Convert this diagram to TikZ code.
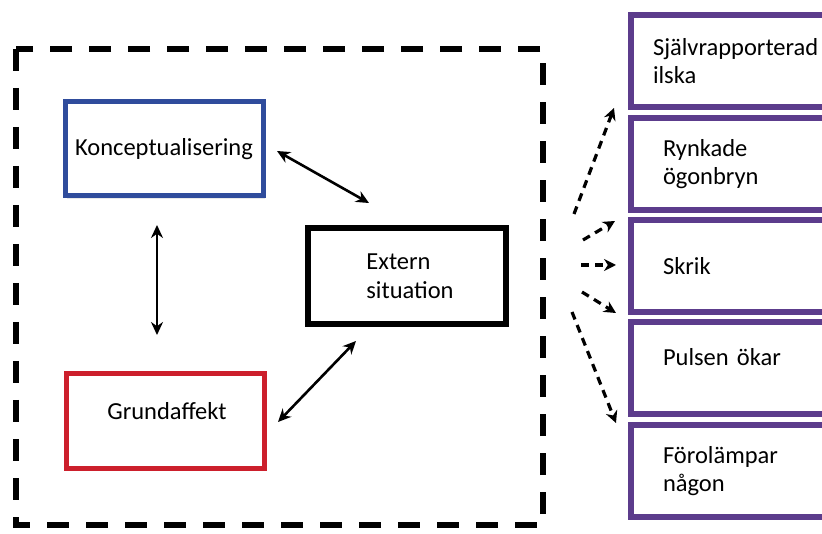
\documentclass[tikz,border=0pt]{standalone}
\usepackage{fontspec}
\setmainfont{Carlito}
\usetikzlibrary{arrows.meta,shadows}
\definecolor{kblue}{HTML}{2F4C9C}
\definecolor{kred}{HTML}{CC1F2C}
\definecolor{kpurple}{HTML}{5C3C8C}
\tikzset{
  every node/.style={font=\fontsize{24.5}{28.5}\selectfont},
  softshadow/.style={drop shadow={opacity=0.18,shadow xshift=2pt,shadow yshift=-3pt}},
  lbox/.style={draw, line width=5pt, fill=white, softshadow, minimum width=198pt, minimum height=94pt, align=left, inner sep=0pt},
  rbox/.style={draw=kpurple, line width=6pt, fill=white, softshadow, minimum height=92pt, align=left, anchor=west, inner ysep=0pt},
  frame/.style={line width=6pt, dash pattern=on 22pt off 17pt},
  dbl/.style={line width=2.6pt, {Stealth[length=13pt,width=12pt]}-{Stealth[length=13pt,width=12pt]}},
  dsh/.style={line width=3.2pt, dash pattern=on 8pt off 6pt, -{Stealth[length=12pt,width=12pt]}}
}
\begin{document}
\begin{tikzpicture}[x=1pt,y=-1pt]
\useasboundingbox (0,0) rectangle (822,534);
\clip (0,0) rectangle (822,534);
% big dashed frame
\draw[frame] (16,49) rectangle (543,525);
% inner boxes
\node[lbox, draw=kblue] (k) at (164,149) {Konceptualisering};
\node[lbox, draw=kred] (g) at (165,421) {\hspace*{4pt}Grundaffekt\\[-8pt]\mbox{}};
\node[lbox, draw=black, line width=6pt, minimum width=198pt, minimum height=96pt] (e) at (407,276) {\hspace*{6pt}Extern\\\hspace*{6pt}situation};
% right boxes
\node[rbox, text width=170pt, inner xsep=22pt] (r1) at (628,61) {Självrapporterad\\ilska};
\node[rbox, text width=160pt, inner xsep=32pt] (r2) at (628,164) {Rynkade\\ögonbryn};
\node[rbox, text width=160pt, inner xsep=32pt] (r3) at (628,266) {Skrik};
\node[rbox, text width=160pt, inner xsep=32pt] (r4) at (628,368) {Pulsen ökar\\[-6pt]\mbox{}};
\node[rbox, text width=160pt, inner xsep=32pt] (r5) at (628,471) {Förolämpar\\någon};
% solid double arrows
\coordinate (a1s) at (277,151); \coordinate (a1e) at (369,203);
\coordinate (a2s) at (157,225); \coordinate (a2e) at (157,335);
\coordinate (a3s) at (278,422); \coordinate (a3e) at (356,341);
\draw[dbl] (a1s) -- (a1e);
\draw[dbl] (a2s) -- (a2e);
\draw[dbl] (a3s) -- (a3e);
% dashed arrows
\coordinate (d1s) at (574,214); \coordinate (d1e) at (614,108);
\coordinate (d2s) at (583,240); \coordinate (d2e) at (615,221);
\coordinate (d3s) at (581,265); \coordinate (d3e) at (616,265);
\coordinate (d4s) at (582,292); \coordinate (d4e) at (616,313);
\coordinate (d5s) at (572,312); \coordinate (d5e) at (616,423);
\draw[dsh] (d1s) -- (d1e);
\draw[dsh] (d2s) -- (d2e);
\draw[dsh] (d3s) -- (d3e);
\draw[dsh] (d4s) -- (d4e);
\draw[dsh] (d5s) -- (d5e);
\end{tikzpicture}
\end{document}
